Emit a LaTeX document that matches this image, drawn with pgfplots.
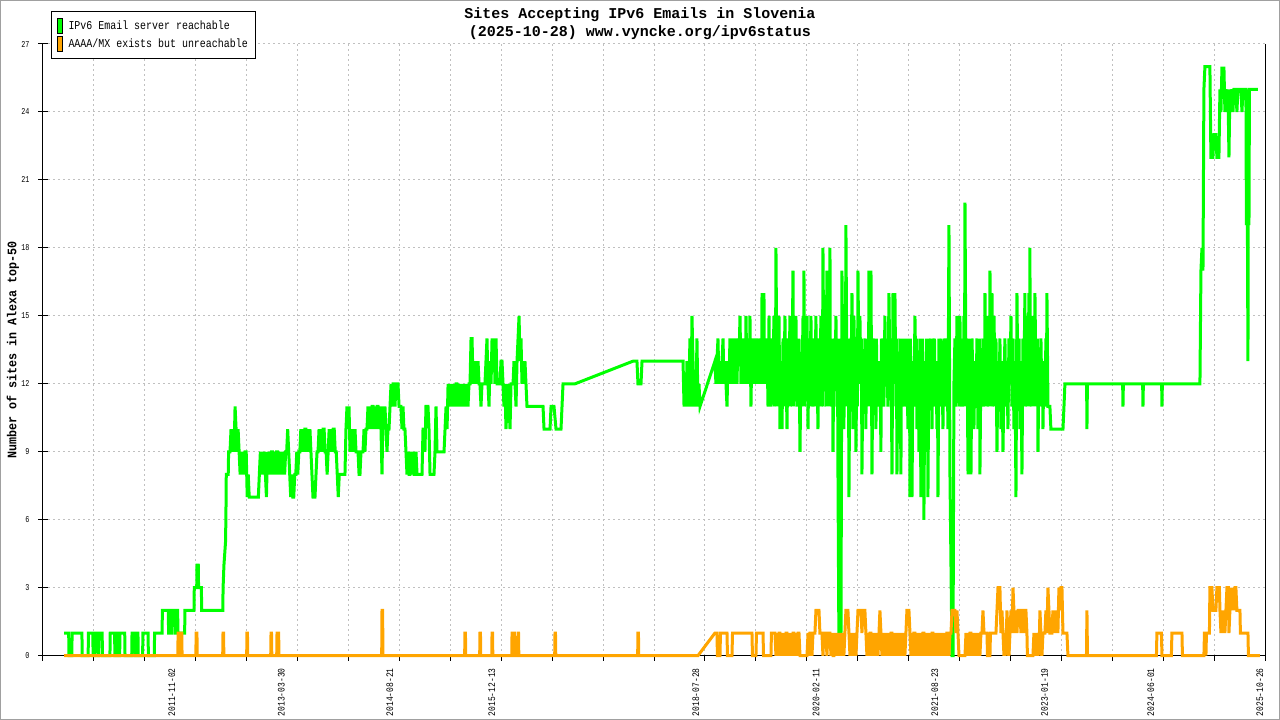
\documentclass[border=0pt]{standalone}
\usepackage{fontspec}
\usepackage{pgfplots}
\pgfplotsset{compat=1.18}
\newfontfamily\mono{Liberation Mono}
\newfontfamily\monoX[FakeStretch=0.8]{Liberation Mono}
\newfontfamily\monoY[FakeStretch=0.75]{Liberation Mono}
\newfontfamily\monoL[FakeStretch=0.83]{Liberation Mono}
\newfontfamily\monoT[FakeStretch=0.9]{Liberation Mono}
\definecolor{ggreen}{RGB}{0,255,0}
\definecolor{gorange}{RGB}{255,165,0}
\definecolor{ggrid}{RGB}{192,192,192}
\definecolor{gframe}{RGB}{160,160,160}
\begin{document}
\begin{tikzpicture}
\useasboundingbox (0,0) rectangle (1280pt,720pt);
\begin{axis}[
  at={(43pt,64.3pt)}, anchor=south west,
  scale only axis, width=1222pt, height=611.7pt,
  xmin=2010.180, xmax=2025.882, ymin=0, ymax=27,
  clip=false,
  axis x line*=bottom, axis y line*=left,
  axis line style={black, line width=1pt},
  ytick={0,3,...,27},
  xtick={2011.836,2013.241,2014.636,2015.948,2018.570,2020.112,2021.641,2023.049,2024.415,2025.816},
  xticklabels={2011-11-02,2013-03-30,2014-08-21,2015-12-13,2018-07-28,2020-02-11,2021-08-23,2023-01-19,2024-06-01,2025-10-26},
  minor xtick={2010.180,2010.834,2011.489,2012.143,2012.797,2013.452,2014.106,2014.760,2015.414,2016.069,2016.723,2017.377,2018.032,2018.686,2019.340,2019.995,2020.649,2021.303,2021.957,2022.612,2023.266,2023.920,2024.575,2025.229,2025.882},
  tick align=center, major tick length=10pt, minor tick length=5pt,
  tick style={black, line width=1pt},
  major x tick style={draw=none},
  minor x tick style={black, line width=1pt, yshift=-2.5pt},
  ymajorgrids, xminorgrids,
  major grid style={ggrid, line width=1pt, dash pattern=on 2pt off 3pt},
  minor grid style={ggrid, line width=1pt, dash pattern=on 2pt off 3pt},
  /pgf/number format/assume math mode=true,
  xticklabel style={rotate=90, anchor=east, font=\monoX\fontsize{10pt}{11pt}\selectfont},
  xticklabel shift=4pt,
  yticklabel style={anchor=east, font=\monoY\fontsize{9pt}{10pt}\selectfont},
  yticklabel shift=5pt,
  ylabel={Number of sites in Alexa top-50},
  ylabel style={font=\monoT\bfseries\fontsize{13pt}{14pt}\selectfont, at={(axis description cs:-0.02455,0.5)}, anchor=center},
  title={Sites Accepting IPv6 Emails in Slovenia\\(2025-10-28) www.vyncke.org/ipv6status},
  title style={at={(axis description cs:0.4885,1.0229)}, anchor=center, align=center, font=\mono\bfseries\fontsize{15pt}{18pt}\selectfont},
  legend style={at={(axis description cs:0.0063,1.0544)}, anchor=north west, draw=black, line width=1pt, fill=white, inner xsep=5.5pt, inner ysep=6.6pt, row sep=2.4pt, column sep=3.4pt, font=\monoL\fontsize{12pt}{13pt}\selectfont, nodes={inner xsep=2pt, inner ysep=0pt}},
  legend cell align=left,
]
\addlegendimage{legend image code/.code={\draw[draw=black,fill=ggreen,line width=0.8pt] (0pt,-7.5pt) rectangle (5.6pt,7.5pt);}}
\addlegendentry{IPv6 Email server reachable}
\addlegendimage{legend image code/.code={\draw[draw=black,fill=gorange,line width=0.8pt] (0pt,-7.5pt) rectangle (5.6pt,7.5pt);}}
\addlegendentry{AAAA/MX exists but unreachable}

\addplot[ggreen, line width=3pt, forget plot] coordinates {
(2010.450,1)(2010.510,1)(2010.514,0)(2010.550,0)(2010.554,1)(2010.680,1)(2010.684,0)(2010.760,0)(2010.764,1)(2010.820,1)(2010.824,0)(2010.840,0)(2010.844,1)(2010.880,1)(2010.884,0)(2010.895,0)(2010.899,1)(2010.940,1)(2010.944,0)(2011.040,0)(2011.044,1)(2011.100,1)(2011.104,0)(2011.115,0)(2011.119,1)(2011.150,1)(2011.154,0)(2011.165,0)(2011.169,1)(2011.230,1)(2011.234,0)(2011.320,0)(2011.324,1)(2011.360,1)(2011.364,0)(2011.372,0)(2011.376,1)(2011.400,1)(2011.404,0)(2011.460,0)(2011.464,1)(2011.530,1)(2011.534,0)(2011.610,0)(2011.614,1)(2011.710,1)(2011.714,2)(2011.790,2)(2011.794,1)(2011.800,1)(2011.804,2)(2011.810,2)(2011.814,1)(2011.830,1)(2011.834,2)(2011.870,2)(2011.874,1)(2011.885,1)(2011.889,2)(2011.910,2)(2011.914,1)(2012.000,1)(2012.004,2)(2012.120,2)(2012.124,3)(2012.155,3)(2012.159,4)(2012.175,4)(2012.179,3)(2012.215,3)(2012.219,2)(2012.490,2)(2012.494,3)(2012.505,4)(2012.525,5)(2012.530,6)(2012.535,8)(2012.560,8)(2012.565,9)
(2012.583,9)(2012.596,10)(2012.609,9)(2012.622,10)(2012.635,9)(2012.648,11)(2012.661,10)(2012.674,9)(2012.687,10)(2012.700,9)
(2012.713,8)(2012.726,9)(2012.739,8)(2012.752,9)(2012.765,8)(2012.778,9)(2012.791,9)(2012.804,7)(2012.817,8)(2012.830,7)
(2012.947,7)(2012.960,8)(2012.973,9)(2012.986,8)(2012.999,9)(2013.012,8)(2013.025,9)(2013.038,8)(2013.051,7)(2013.064,9)
(2013.077,8)(2013.090,9)(2013.103,8)(2013.116,9)(2013.129,9)(2013.142,8)(2013.155,9)(2013.168,8)(2013.181,9)(2013.194,9)
(2013.207,8)(2013.220,9)(2013.233,8)(2013.246,9)(2013.259,8)(2013.272,9)(2013.285,8)(2013.298,9)(2013.311,9)(2013.324,10)
(2013.337,9)(2013.350,8)(2013.363,7)(2013.376,8)(2013.389,7)(2013.402,7)(2013.415,8)(2013.428,8)(2013.441,9)(2013.454,8)
(2013.467,9)(2013.480,9)(2013.493,10)(2013.506,9)(2013.519,10)(2013.532,9)(2013.545,10)(2013.558,10)(2013.571,9)(2013.584,10)
(2013.597,9)(2013.610,10)(2013.623,9)(2013.636,8)(2013.649,7)(2013.662,7)(2013.675,7)(2013.688,8)(2013.701,9)(2013.714,9)
(2013.727,10)(2013.740,9)(2013.753,10)(2013.766,9)(2013.779,10)(2013.792,10)(2013.805,9)(2013.818,9)(2013.831,8)(2013.844,9)
(2013.857,10)(2013.870,9)(2013.883,10)(2013.896,9)(2013.909,10)(2013.922,10)(2013.935,9)(2013.948,9)(2013.961,8)(2013.974,7)
(2013.987,8)(2014.000,8)(2014.013,8)
(2014.060,8)(2014.073,10)(2014.086,11)(2014.099,10)(2014.112,11)(2014.125,9)(2014.138,10)(2014.151,9)(2014.164,10)(2014.176,9)
(2014.189,10)(2014.202,9)(2014.228,9)(2014.241,8)(2014.253,8)(2014.266,9)(2014.292,9)(2014.305,10)(2014.317,9)(2014.330,10)
(2014.343,10)(2014.356,11)(2014.369,10)(2014.382,11)(2014.395,10)(2014.408,11)(2014.421,11)(2014.433,10)(2014.446,11)(2014.459,10)
(2014.472,11)(2014.485,11)(2014.498,10)(2014.510,11)(2014.523,10)(2014.536,8)(2014.549,11)(2014.561,10)(2014.574,11)(2014.587,10)
(2014.600,9)(2014.613,10)(2014.626,10)(2014.639,11)(2014.652,12)(2014.665,11)(2014.678,12)(2014.690,12)(2014.703,11)(2014.716,12)
(2014.742,12)(2014.755,11)(2014.780,11)(2014.793,10)(2014.806,11)(2014.818,10)(2014.831,10)(2014.844,9)(2014.857,8)(2014.870,9)
(2014.883,8)(2014.896,8)(2014.909,9)(2014.922,8)(2014.935,9)(2014.947,8)(2014.960,8)(2014.973,9)(2014.986,8)(2015.050,8)
(2015.063,10)(2015.075,10)(2015.088,9)(2015.101,11)(2015.127,11)(2015.140,10)(2015.153,8)(2015.204,8)(2015.217,9)(2015.230,11)
(2015.243,9)(2015.333,9)(2015.346,10)(2015.359,11)(2015.372,10)(2015.385,12)(2015.398,11)(2015.410,12)(2015.423,11)(2015.436,12)
(2015.449,11)(2015.461,12)(2015.474,11)(2015.487,12)(2015.500,12)(2015.513,11)(2015.526,12)(2015.538,11)(2015.551,12)(2015.564,11)
(2015.577,12)(2015.589,11)(2015.602,12)(2015.615,11)(2015.628,12)(2015.641,11)(2015.654,12)(2015.667,12)(2015.680,14)(2015.693,14)
(2015.706,12)(2015.718,13)(2015.731,12)(2015.744,13)(2015.757,12)(2015.770,13)(2015.783,12)(2015.795,12)(2015.808,11)(2015.821,12)
(2015.859,12)(2015.872,13)(2015.885,14)(2015.898,12)(2015.911,11)(2015.924,13)(2015.937,12)(2015.950,14)(2015.963,13)(2015.975,14)
(2015.988,12)(2016.001,14)(2016.014,12)(2016.052,12)(2016.065,13)(2016.078,13)(2016.091,12)(2016.103,11)(2016.116,12)(2016.129,10)
(2016.142,11)(2016.155,12)(2016.168,11)(2016.181,10)(2016.194,12)(2016.220,12)(2016.232,13)(2016.245,12)(2016.258,11)(2016.271,13)
(2016.284,14)(2016.297,15)(2016.309,13)(2016.322,14)(2016.335,12)(2016.348,13)(2016.360,12)(2016.373,13)(2016.386,12)(2016.399,11)
(2016.605,11)(2016.618,10)(2016.695,10)(2016.708,11)(2016.746,11)(2016.772,10)(2016.836,10)(2016.849,11)(2016.862,12)(2017.016,12)
(2017.761,13)(2017.812,13)(2017.825,12)(2017.864,12)(2017.877,13)
(2018.404,13)(2018.417,11)(2018.429,12)(2018.442,11)(2018.455,13)(2018.468,11)(2018.481,12)(2018.493,14)(2018.506,11)(2018.519,15)
(2018.532,13)(2018.544,11)(2018.557,12)(2018.570,11)(2018.583,14)(2018.596,11)(2018.609,12)(2018.622,11)
(2018.814,13)(2018.827,12)(2018.840,13)(2018.853,14)(2018.866,12)(2018.879,13)(2018.892,12)(2018.905,13)(2018.918,14)(2018.930,12)
(2018.943,13)(2018.956,12)(2018.969,11)(2018.982,13)(2018.995,12)(2019.007,14)(2019.020,12)(2019.033,13)(2019.046,14)(2019.058,12)
(2019.071,13)(2019.084,14)(2019.097,12)(2019.110,14)(2019.123,13)
(2019.136,15)(2019.149,12)(2019.162,14)(2019.168,12)(2019.175,13)(2019.187,12)(2019.200,14)(2019.206,12)(2019.213,15)(2019.226,12)(2019.239,14)(2019.245,12)(2019.252,13)(2019.258,12)(2019.264,15)(2019.277,11)(2019.290,14)(2019.303,12)(2019.315,13)(2019.321,12)(2019.328,14)(2019.341,12)(2019.354,14)(2019.360,12)(2019.367,13)(2019.380,12)(2019.393,14)(2019.399,12)(2019.406,13)(2019.412,12)(2019.419,16)(2019.432,12)(2019.444,16)(2019.450,12)(2019.457,13)(2019.470,12)(2019.483,14)(2019.496,11)(2019.509,15)(2019.515,11)(2019.521,13)(2019.534,11)(2019.547,14)(2019.560,12)(2019.572,15)(2019.579,11)(2019.585,13)(2019.591,11)(2019.598,18)(2019.611,12)(2019.624,14)(2019.630,11)(2019.637,15)(2019.650,10)(2019.663,13)(2019.676,10)(2019.689,14)(2019.701,12)(2019.714,15)(2019.720,11)(2019.727,13)(2019.740,10)(2019.753,14)(2019.766,12)(2019.778,15)(2019.784,11)(2019.791,13)(2019.804,12)(2019.817,17)(2019.823,11)(2019.829,14)(2019.842,12)(2019.855,15)(2019.868,11)(2019.881,13)(2019.887,11)(2019.894,14)(2019.907,9)(2019.920,13)(2019.933,12)(2019.946,15)(2019.952,11)(2019.958,17)(2019.964,11)(2019.971,13)(2019.984,12)(2019.997,15)
(2020.010,10)(2020.023,14)(2020.035,12)(2020.048,15)(2020.054,11)(2020.061,13)(2020.074,11)(2020.086,14)(2020.099,12)(2020.112,15)(2020.118,11)(2020.125,13)(2020.138,10)(2020.151,14)(2020.163,12)(2020.176,15)(2020.182,11)(2020.189,13)(2020.195,11)(2020.202,18)(2020.214,12)(2020.227,15)(2020.240,11)(2020.253,17)(2020.259,11)(2020.266,14)(2020.279,12)(2020.292,18)(2020.298,11)(2020.305,13)(2020.318,11)(2020.324,14)(2020.331,9)(2020.343,14)(2020.356,12)(2020.369,15)(2020.382,11)(2020.388,14)(2020.395,8)(2020.408,0)(2020.420,14)(2020.433,0)(2020.446,17)(2020.459,12)(2020.471,10)(2020.484,15)(2020.490,11)(2020.497,19)(2020.510,12)(2020.516,14)(2020.523,11)(2020.529,14)(2020.536,7)(2020.549,14)(2020.562,12)(2020.575,16)(2020.588,10)(2020.600,15)(2020.613,12)(2020.619,14)(2020.626,9)(2020.639,14)(2020.645,11)(2020.652,17)(2020.665,12)(2020.677,15)(2020.690,12)(2020.696,14)(2020.703,8)(2020.716,13)(2020.728,11)(2020.741,14)(2020.754,10)(2020.760,14)(2020.767,12)(2020.780,13)(2020.786,11)(2020.793,17)(2020.806,11)(2020.819,17)(2020.832,8)(2020.845,14)(2020.857,12)(2020.870,13)(2020.883,10)(2020.889,14)(2020.896,12)(2020.909,13)(2020.922,11)(2020.934,13)(2020.947,9)(2020.953,14)(2020.960,12)(2020.973,14)(2020.985,11)(2020.998,15)
(2021.011,12)(2021.024,13)(2021.037,11)(2021.050,16)(2021.063,12)(2021.076,14)(2021.089,8)(2021.102,16)(2021.114,12)(2021.127,16)(2021.140,11)(2021.146,14)(2021.153,8)(2021.166,13)(2021.179,11)(2021.191,14)(2021.204,8)(2021.210,14)(2021.217,12)(2021.223,14)(2021.230,11)(2021.243,13)(2021.255,12)(2021.261,14)(2021.268,11)(2021.281,13)(2021.294,10)(2021.300,14)(2021.307,12)(2021.313,14)(2021.320,7)(2021.326,14)(2021.333,11)(2021.339,13)(2021.346,7)(2021.359,13)(2021.371,11)(2021.384,15)(2021.397,12)(2021.403,14)(2021.410,10)(2021.423,13)(2021.436,9)(2021.448,14)(2021.461,7)(2021.467,13)(2021.474,12)(2021.480,14)(2021.487,10)(2021.493,13)(2021.499,6)(2021.512,13)(2021.525,9)(2021.531,14)(2021.538,12)(2021.544,13)(2021.551,7)(2021.564,14)(2021.577,11)(2021.583,14)(2021.590,12)(2021.596,14)(2021.603,10)(2021.616,14)(2021.628,11)(2021.635,14)(2021.641,12)(2021.654,13)(2021.667,10)(2021.673,13)(2021.680,7)(2021.693,14)(2021.705,11)(2021.712,14)(2021.718,12)(2021.731,13)(2021.744,10)(2021.757,14)(2021.769,11)(2021.776,14)(2021.782,12)(2021.795,14)(2021.808,10)(2021.821,19)(2021.834,8)(2021.847,4)(2021.860,0)(2021.873,0)(2021.885,12)(2021.898,14)(2021.911,11)(2021.924,15)(2021.937,12)(2021.950,13)(2021.956,11)(2021.962,15)(2021.975,11)(2021.988,14)(2021.994,11)
(2022.001,13)(2022.007,11)(2022.014,15)(2022.020,11)(2022.027,20)(2022.040,12)(2022.053,14)(2022.066,8)(2022.079,13)(2022.091,11)(2022.097,14)(2022.104,8)(2022.117,14)(2022.130,12)(2022.142,10)(2022.155,13)(2022.168,11)(2022.181,14)(2022.194,10)(2022.207,12)(2022.213,14)(2022.219,8)(2022.232,13)(2022.245,11)(2022.258,14)(2022.264,11)(2022.271,13)(2022.277,11)(2022.284,16)(2022.297,12)(2022.310,15)(2022.316,11)(2022.323,13)(2022.329,11)(2022.336,14)(2022.342,11)(2022.348,17)(2022.361,12)(2022.374,16)(2022.380,11)(2022.387,13)(2022.393,11)(2022.400,15)(2022.412,12)(2022.425,14)(2022.438,9)(2022.451,13)(2022.464,11)(2022.476,14)(2022.489,10)(2022.502,13)(2022.515,9)(2022.528,12)(2022.540,14)(2022.553,11)(2022.566,13)(2022.579,10)(2022.592,14)(2022.605,12)(2022.618,15)(2022.631,11)(2022.644,14)(2022.656,10)(2022.669,13)(2022.682,7)(2022.695,16)(2022.708,11)(2022.721,14)(2022.733,10)(2022.746,13)(2022.759,8)(2022.772,14)(2022.784,12)(2022.797,16)(2022.803,11)(2022.810,13)(2022.816,11)(2022.823,15)(2022.836,12)(2022.849,16)(2022.855,11)(2022.861,18)(2022.868,11)(2022.874,13)(2022.881,11)(2022.887,15)(2022.900,12)(2022.913,14)(2022.919,11)(2022.926,16)(2022.939,12)(2022.945,14)(2022.952,11)(2022.958,14)(2022.965,9)(2022.978,13)(2022.990,12)
(2023.003,14)(2023.016,11)(2023.022,13)(2023.029,10)(2023.041,13)(2023.054,11)(2023.067,14)(2023.073,11)(2023.080,16)(2023.093,11)(2023.118,11)(2023.131,10)(2023.286,10)(2023.299,11)(2023.311,12)
(2023.590,12)(2023.594,10)(2023.600,12)(2024.053,12)(2024.057,11)(2024.062,12)(2024.310,12)(2024.314,11)(2024.319,12)(2024.554,12)(2024.558,11)(2024.563,12)
(2025.046,12)(2025.059,17)(2025.072,18)(2025.085,17)(2025.097,25)(2025.110,26)(2025.174,26)(2025.187,22)(2025.213,22)(2025.226,23)
(2025.251,23)(2025.264,22)(2025.290,22)(2025.303,25)(2025.316,24)(2025.329,26)(2025.342,25)(2025.354,26)(2025.367,24)(2025.380,25)
(2025.393,24)(2025.406,25)(2025.419,22)(2025.431,25)(2025.444,24)(2025.457,25)(2025.470,24)(2025.483,25)(2025.508,25)(2025.521,24)
(2025.534,25)(2025.573,25)(2025.586,24)(2025.599,25)(2025.637,25)(2025.643,19)(2025.650,25)(2025.656,19)(2025.663,13)(2025.669,25)
(2025.676,19)(2025.682,25)(2025.791,25)
};

\addplot[gorange, line width=3pt, forget plot] coordinates {
(2010.450,0)(2011.912,0)(2011.916,1)(2011.930,1)(2011.934,0)(2011.947,0)(2011.951,1)(2011.963,1)(2011.967,0)
(2012.144,0)(2012.148,1)(2012.158,1)(2012.162,0)(2012.489,0)(2012.493,1)(2012.500,1)(2012.504,0)
(2012.797,0)(2012.801,1)(2012.807,1)(2012.811,0)(2013.106,0)(2013.110,1)(2013.116,1)(2013.120,0)
(2013.183,0)(2013.187,1)(2013.193,1)(2013.197,0)(2013.201,1)(2013.208,1)(2013.212,0)
(2014.532,0)(2014.536,2)(2014.544,2)(2014.548,0)(2015.598,0)(2015.602,1)(2015.608,1)(2015.612,0)
(2015.791,0)(2015.795,1)(2015.801,1)(2015.805,0)(2015.946,0)(2015.950,1)(2015.956,1)(2015.960,0)
(2016.203,0)(2016.207,1)(2016.213,1)(2016.217,0)(2016.228,0)(2016.232,1)(2016.238,1)(2016.242,0)
(2016.280,0)(2016.284,1)(2016.290,1)(2016.294,0)(2016.755,0)(2016.759,1)(2016.765,1)(2016.769,0)
(2017.821,0)(2017.825,1)(2017.831,1)(2017.835,0)(2018.596,0)
(2018.814,1)(2018.840,1)(2018.846,0)(2018.879,0)(2018.885,1)(2018.969,1)(2018.975,0)(2019.033,0)(2019.040,1)(2019.290,1)
(2019.296,0)(2019.341,0)(2019.348,1)(2019.432,1)(2019.438,0)(2019.534,0)(2019.540,1)(2019.585,1)(2019.598,0)(2019.611,1)
(2019.624,0)(2019.637,1)(2019.650,1)(2019.663,0)(2019.676,1)(2019.689,0)(2019.701,1)(2019.714,0)(2019.727,1)(2019.740,1)
(2019.753,0)(2019.766,1)(2019.778,0)(2019.791,1)(2019.804,0)(2019.817,1)(2019.829,1)(2019.842,0)(2019.855,1)(2019.868,0)
(2019.881,1)(2019.894,1)(2019.907,0)(2019.997,0)(2020.010,1)(2020.023,0)(2020.035,1)(2020.048,1)(2020.061,0)(2020.074,1)
(2020.099,1)(2020.112,2)(2020.151,2)(2020.163,1)(2020.189,1)(2020.202,0)(2020.214,1)(2020.240,1)(2020.253,0)(2020.266,1)
(2020.292,1)(2020.305,0)(2020.318,1)(2020.331,0)(2020.343,0)(2020.356,1)(2020.369,0)(2020.382,1)(2020.395,0)(2020.408,1)
(2020.420,0)(2020.433,1)(2020.446,0)(2020.459,1)(2020.471,0)(2020.484,1)(2020.497,2)(2020.523,2)(2020.536,1)(2020.549,0)
(2020.562,1)(2020.575,0)(2020.588,1)(2020.600,0)(2020.613,1)(2020.626,0)(2020.639,1)(2020.652,2)(2020.690,2)(2020.703,1)
(2020.716,2)(2020.741,2)(2020.754,1)(2020.767,0)(2020.780,1)(2020.793,0)(2020.806,1)(2020.819,1)(2020.832,0)(2020.845,1)
(2020.857,0)(2020.870,1)(2020.883,0)(2020.896,1)(2020.909,0)(2020.922,1)(2020.934,2)(2020.947,1)(2020.960,0)(2020.973,1)
(2020.985,0)(2020.998,1)(2021.011,0)(2021.024,1)(2021.037,0)(2021.050,1)(2021.063,0)(2021.076,1)(2021.089,1)(2021.102,0)
(2021.114,1)(2021.127,0)(2021.140,1)(2021.153,0)(2021.166,1)(2021.179,0)(2021.191,1)(2021.204,0)(2021.217,1)(2021.230,0)
(2021.243,1)(2021.255,0)(2021.268,1)(2021.281,2)(2021.307,2)(2021.320,1)(2021.333,0)(2021.346,1)(2021.359,0)(2021.371,1)
(2021.384,1)(2021.397,0)(2021.410,1)(2021.423,0)(2021.436,1)(2021.448,0)(2021.461,1)(2021.474,0)(2021.487,1)(2021.499,1)
(2021.512,0)(2021.525,1)(2021.538,0)(2021.551,1)(2021.564,0)(2021.577,1)(2021.590,0)(2021.603,1)(2021.616,1)(2021.628,0)
(2021.641,1)(2021.654,0)(2021.667,1)(2021.680,0)(2021.693,1)(2021.705,0)(2021.718,1)(2021.731,0)(2021.744,1)(2021.757,0)
(2021.769,1)(2021.782,0)(2021.795,1)(2021.808,1)(2021.821,0)(2021.834,1)(2021.847,1)(2021.860,2)(2021.898,2)(2021.911,1)
(2021.924,2)(2021.937,1)(2021.950,0)(2022.027,0)(2022.040,1)(2022.053,0)(2022.066,1)(2022.079,0)(2022.091,1)(2022.104,1)
(2022.117,0)(2022.130,1)(2022.142,0)(2022.155,1)(2022.168,0)(2022.181,1)(2022.194,0)(2022.207,1)(2022.219,0)(2022.232,1)
(2022.245,1)(2022.258,2)(2022.271,1)(2022.310,1)(2022.316,0)(2022.348,0)(2022.354,1)(2022.425,1)(2022.438,2)(2022.451,3)
(2022.476,3)(2022.489,1)(2022.502,2)(2022.515,1)(2022.528,0)(2022.540,1)(2022.553,0)(2022.566,2)(2022.579,1)(2022.592,0)
(2022.605,1)(2022.618,2)(2022.631,1)(2022.644,3)(2022.656,2)(2022.669,1)(2022.682,2)(2022.695,1)(2022.708,2)(2022.733,2)
(2022.746,1)(2022.759,2)(2022.772,2)(2022.784,1)(2022.797,2)(2022.810,2)(2022.823,1)(2022.829,0)(2022.900,0)(2022.913,1)
(2022.926,0)(2022.939,1)(2022.952,0)(2022.965,1)(2022.978,0)(2022.990,2)(2023.003,1)(2023.016,0)(2023.029,1)(2023.054,1)
(2023.067,2)(2023.080,1)(2023.093,3)(2023.106,2)(2023.118,1)(2023.144,1)(2023.157,2)(2023.170,1)(2023.183,2)(2023.196,1)
(2023.209,2)(2023.221,1)(2023.234,3)(2023.247,2)(2023.260,3)(2023.273,3)(2023.286,1)(2023.337,1)(2023.350,0)
(2023.588,0)(2023.594,2)(2023.601,0)(2024.487,0)(2024.493,1)(2024.551,1)(2024.558,0)(2024.679,0)(2024.686,1)(2024.815,1)
(2024.821,0)(2025.097,0)(2025.104,1)(2025.117,1)(2025.123,0)(2025.130,1)(2025.168,1)(2025.174,3)(2025.200,3)(2025.213,2)
(2025.251,2)(2025.264,3)(2025.296,3)(2025.303,2)(2025.316,1)(2025.329,2)(2025.342,1)(2025.354,2)(2025.367,1)(2025.380,2)
(2025.393,3)(2025.412,3)(2025.419,1)(2025.431,2)(2025.444,3)(2025.457,2)(2025.470,3)(2025.483,2)(2025.496,3)(2025.508,3)
(2025.521,2)(2025.560,2)(2025.566,1)(2025.663,1)(2025.669,0)(2025.817,0)
};
\draw[black, line width=1pt] (rel axis cs:1,0) -- (rel axis cs:1,1);
\end{axis}
\draw[gframe, line width=1pt] (0.5pt,0.5pt) rectangle (1279.5pt,719.5pt);
\end{tikzpicture}
\end{document}
